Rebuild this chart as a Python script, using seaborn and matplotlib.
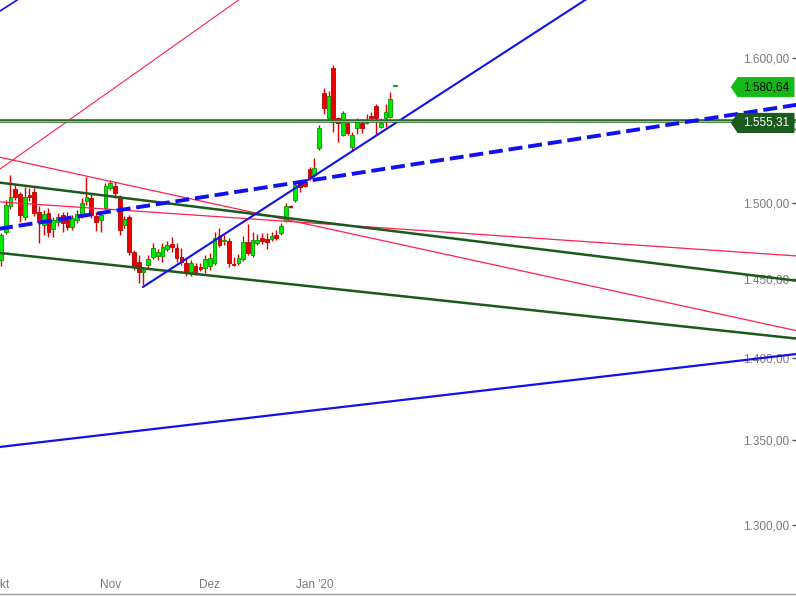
import numpy as np
import pandas as pd
import matplotlib
matplotlib.use("Agg")
import matplotlib.pyplot as plt
import seaborn as sns
from matplotlib.path import Path
from matplotlib.ticker import NullLocator

# daily candles, 1 Oct 2019 .. 24 Jan 2020 (weekdays)
opens = [1462.5, 1480.8, 1497.9, 1509.5, 1506.1, 1490.7, 1505.4, 1507.5, 1494.0, 1485.4,
         1493.4, 1482.8, 1487.4, 1492.1, 1488.7, 1484.1, 1488.7, 1492.1, 1501.4, 1503.4,
         1491.4, 1488.7, 1496.7, 1510.2, 1511.5, 1504.1, 1485.4, 1490.7, 1467.7, 1461.2,
         1454.7, 1459.3, 1464.5, 1465.1, 1465.1, 1469.7, 1472.9, 1470.3, 1464.5, 1460.6,
         1454.1, 1458.6, 1458.0, 1457.3, 1458.6, 1460.6, 1478.1, 1474.9, 1474.9, 1459.9,
         1460.6, 1463.2, 1474.2, 1465.8, 1473.6, 1476.8, 1476.2, 1476.2, 1478.8, 1480.1,
         1488.1, 1498.0, 1502.0, 1513.6, 1514.3, 1523.1, 1519.0, 1537.4, 1575.2, 1557.8,
         1592.8, 1557.8, 1546.1, 1554.3, 1538.0, 1550.9, 1554.3, 1554.3, 1559.1, 1566.1,
         1551.6, 1557.8, 1558.4, 1579.8]
highs = [1480.1, 1502.0, 1519.0, 1512.2, 1507.5, 1510.9, 1510.2, 1510.2, 1497.9, 1495.4,
         1496.7, 1490.7, 1493.4, 1494.0, 1494.0, 1492.1, 1495.4, 1503.4, 1517.7, 1506.8,
         1494.0, 1494.0, 1513.6, 1515.6, 1514.3, 1505.4, 1491.4, 1492.1, 1469.0, 1465.8,
         1458.0, 1465.8, 1473.6, 1469.7, 1473.6, 1474.9, 1477.5, 1473.6, 1470.3, 1463.8,
         1462.5, 1460.6, 1460.6, 1465.8, 1467.1, 1480.8, 1483.5, 1478.8, 1476.8, 1464.5,
         1466.4, 1478.1, 1486.1, 1480.8, 1479.5, 1480.1, 1480.1, 1480.8, 1482.1, 1486.8,
         1500.0, 1498.7, 1514.3, 1515.6, 1515.6, 1524.5, 1530.6, 1552.9, 1578.7, 1576.6,
         1594.9, 1558.4, 1562.6, 1555.7, 1548.2, 1557.8, 1557.1, 1560.5, 1561.9, 1567.5,
         1557.8, 1567.5, 1575.9, 1580.64]
lows = [1458.6, 1479.5, 1495.9, 1502.0, 1487.4, 1488.7, 1501.4, 1491.4, 1473.6, 1478.8,
        1477.5, 1477.5, 1484.8, 1480.8, 1482.1, 1482.1, 1486.8, 1490.1, 1498.7, 1490.1,
        1481.5, 1480.8, 1495.4, 1508.8, 1503.4, 1478.8, 1483.5, 1465.8, 1456.0, 1447.5,
        1446.3, 1457.3, 1463.2, 1462.5, 1461.2, 1468.4, 1467.7, 1461.2, 1459.3, 1452.1,
        1452.1, 1452.8, 1455.4, 1454.1, 1456.0, 1459.3, 1471.0, 1472.3, 1458.0, 1458.6,
        1459.3, 1461.9, 1465.8, 1464.5, 1472.3, 1472.9, 1469.7, 1474.9, 1475.5, 1478.8,
        1487.4, 1496.7, 1500.7, 1507.5, 1510.9, 1515.6, 1517.7, 1536.0, 1560.5, 1555.7,
        1548.2, 1541.4, 1545.5, 1546.1, 1535.3, 1546.8, 1547.5, 1553.6, 1557.1, 1546.1,
        1550.9, 1551.6, 1557.8, 1579.8]
closes = [1478.8, 1498.7, 1504.1, 1504.1, 1492.1, 1504.1, 1504.1, 1493.4, 1487.4, 1492.7,
          1480.8, 1488.7, 1490.7, 1486.8, 1484.1, 1490.1, 1492.7, 1500.0, 1504.1, 1492.1,
          1487.4, 1492.1, 1511.5, 1513.6, 1506.8, 1482.1, 1489.4, 1467.7, 1458.0, 1454.7,
          1456.0, 1463.2, 1470.3, 1467.7, 1471.0, 1472.3, 1471.0, 1463.8, 1461.2, 1454.7,
          1460.6, 1454.7, 1456.7, 1463.2, 1463.8, 1476.8, 1472.3, 1475.5, 1460.6, 1459.3,
          1463.8, 1474.2, 1467.1, 1475.5, 1475.5, 1474.9, 1474.2, 1478.1, 1476.8, 1484.8,
          1498.0, 1497.4, 1512.2, 1510.9, 1511.5, 1517.0, 1523.8, 1550.9, 1564.7, 1573.1,
          1555.0, 1554.3, 1561.2, 1547.5, 1546.1, 1555.7, 1550.9, 1556.4, 1557.8, 1557.8,
          1554.3, 1561.9, 1571.0, 1580.64]

month_labels = ["Okt", "Nov", "Dez", "Jan '20"]
price_ticks = [1300, 1350, 1400, 1450, 1500, 1550, 1600]
# the 1.550,00 label sits under the price tag in the original, so leave it blank
price_labels = ["1.300,00", "1.350,00", "1.400,00", "1.450,00", "1.500,00", "", "1.600,00"]

last_price = 1580.64
support_price = 1555.31

# drawn trend lines: (candle index, price) end points
trend_dashed = ([-1, 169], [1482.6, 1567.6])
trend_blue_steep = ([29.9, 130.4], [1445.0, 1658.2])
trend_blue_steep_par = ([-1.26, 6.11], [1631.3, 1647.6])
trend_blue_low = ([-1, 169], [1345.6, 1403.1])
trend_red_steep = ([-1, 55], [1521.0, 1653.8])
trend_red_mid = ([-1, 169], [1531.3, 1416.3])
trend_red_flat = ([-1, 169], [1500.9, 1464.8])
trend_green_up = ([-1, 169], [1513.9, 1448.5])
trend_green_low = ([-1, 169], [1467.3, 1411.8])

BLUE = "#1010f0"
RED = "#ff1f50"
DKGREEN = "#1b5a1b"

sns.set_style("white")
plt.rcParams["font.family"] = ["Liberation Sans", "DejaVu Sans"]

dates = pd.bdate_range("2019-10-01", periods=len(closes))
df = pd.DataFrame({"date": dates, "open": opens, "high": highs, "low": lows, "close": closes})
df["pos"] = np.arange(len(df))
month_pos = [0] + [i for i in range(1, len(df)) if dates[i].month != dates[i - 1].month]

fig = plt.figure(figsize=(7.96, 5.96), dpi=100)
ax = fig.add_axes([0, 2 / 596, 1, 594 / 596])
ax.set_yscale("log")

up = df["close"] >= df["open"]
body_col = np.where(up, "#00ea00", "#e80000")
edge_col = np.where(up, "#009800", "#b80000")
ax.vlines(df["pos"], df["low"], df["high"], color="#e00000", lw=1, zorder=2)
ax.bar(df["pos"], (df["close"] - df["open"]).abs(), bottom=df[["open", "close"]].min(axis=1),
       width=0.78, color=body_col, edgecolor=edge_col, linewidth=0.6, zorder=3)


def trend(line, color, lw, dashed=False):
    sns.lineplot(x=line[0], y=line[1], ax=ax, color=color, lw=lw, zorder=4)
    if dashed:
        ax.lines[-1].set_dashes([3.6, 1.5])
        ax.lines[-1].set_dash_capstyle("butt")


trend(trend_red_steep, RED, 0.8)
trend(trend_red_mid, RED, 0.9)
trend(trend_red_flat, RED, 0.9)
trend(trend_green_up, DKGREEN, 1.8)
trend(trend_green_low, DKGREEN, 1.8)
trend(trend_blue_low, BLUE, 1.6)
trend(trend_blue_steep, BLUE, 1.5)
trend(trend_blue_steep_par, BLUE, 1.2)
ax.axhline(support_price, color="#2b6a2b", lw=2.6, zorder=4)
ax.axhline(support_price, color="#9cc49c", lw=0.7, zorder=4)
trend(trend_dashed, BLUE, 2.8, dashed=True)


def tag_shape(x0, y0, width, height, mutation_size):
    px, py, tip = 0.42 * mutation_size, 0.3 * mutation_size, 0.55 * mutation_size
    x0, y0 = x0 - px, y0 - py
    x1, y1 = x0 + width + 2 * px, y0 + height + 2 * py
    ym = (y0 + y1) / 2
    return Path([(x0 - tip, ym), (x0, y0), (x1, y0), (x1, y1), (x0, y1), (x0 - tip, ym)], closed=True)


for price, fc, tc, dy in [(last_price, "#16b816", "black", -2), (support_price, "#1d5a1d", "white", -1.5)]:
    ax.annotate(f"{price:,.2f}".replace(",", "X").replace(".", ",").replace("X", "."),
                xy=(1, price), xycoords=ax.get_yaxis_transform(),
                xytext=(-7, dy), textcoords="offset pixels", ha="right", va="center",
                fontsize=8.5, color=tc, zorder=10, annotation_clip=False,
                bbox=dict(boxstyle=tag_shape, fc=fc, ec=fc, lw=0.8))

ax.set_xlim(-0.21, 167.47)
ax.set_ylim(1260.7, 1641.6)
ax.set_axisbelow(True)

ax.yaxis.tick_right()
ax.yaxis.set_minor_locator(NullLocator())
ax.set_yticks(price_ticks, price_labels)
ax.set_xticks(month_pos, month_labels)
ax.tick_params(axis="y", which="major", direction="in", length=3, width=1, color="#555555",
               pad=-5, labelsize=8.5, labelcolor="#7a7a7a")
ax.tick_params(axis="x", which="major", direction="inout", length=3, width=1, color="#555555",
               pad=-12.5, labelsize=8.5, labelcolor="#7a7a7a")
plt.setp(ax.get_yticklabels(), ha="right")

for side in ["top", "left", "right"]:
    ax.spines[side].set_visible(False)
ax.spines["bottom"].set_color("#9a9a9a")
ax.spines["bottom"].set_linewidth(1)

fig.savefig("out.png", dpi=100)
